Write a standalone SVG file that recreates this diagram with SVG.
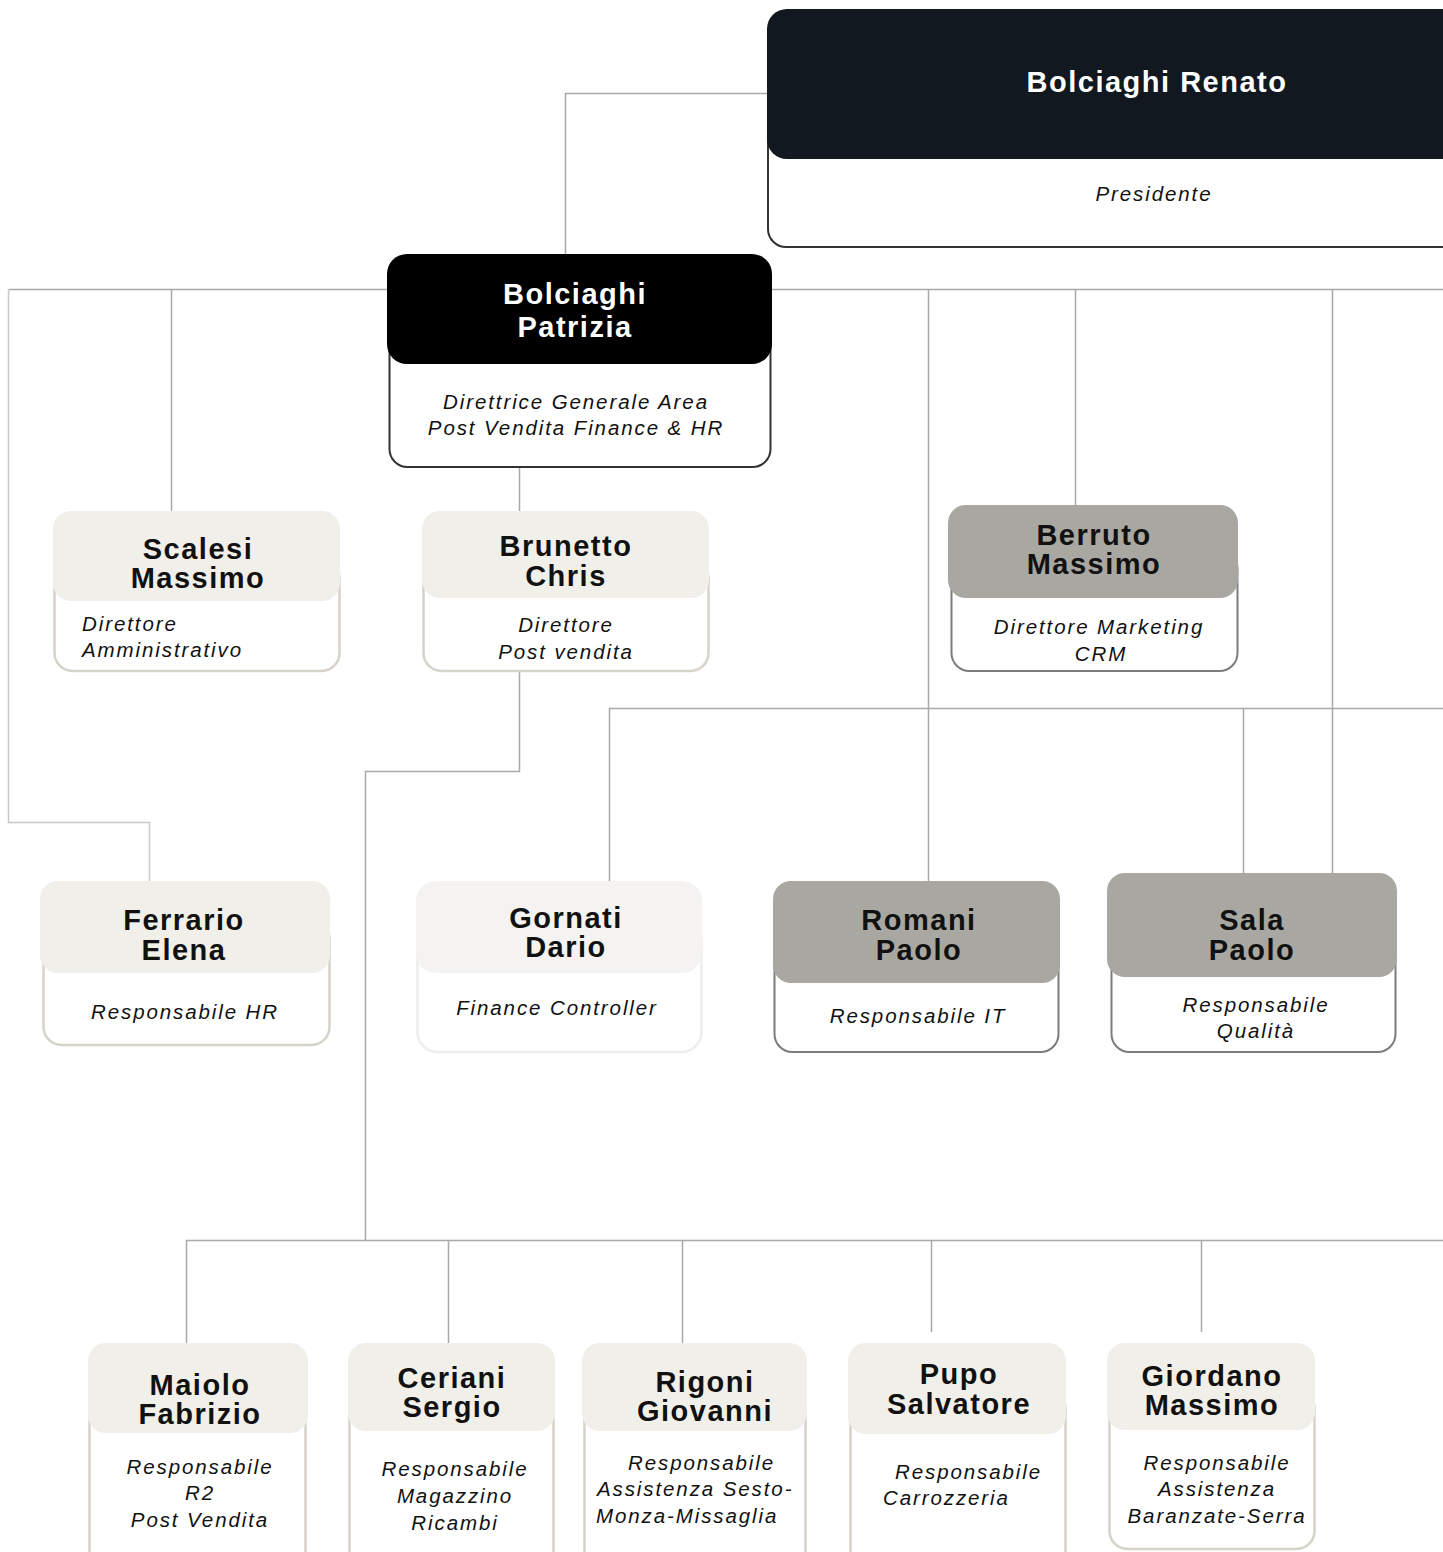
<svg xmlns="http://www.w3.org/2000/svg" width="1443" height="1552" viewBox="0 0 1443 1552">
<style>
.bg{fill:#ffffff}
.conn{fill:none;stroke:#a9a9a9;stroke-width:1.5}
.name{font-family:"Liberation Sans",Arial,sans-serif;font-weight:bold;font-size:29px;letter-spacing:1.5px;text-anchor:middle;fill:#111}
.nameW{font-family:"Liberation Sans",Arial,sans-serif;font-weight:bold;font-size:29px;letter-spacing:1.5px;text-anchor:middle;fill:#fff}
.title{font-family:"Liberation Sans",Arial,sans-serif;font-style:italic;font-size:20.5px;letter-spacing:1.9px;fill:#111}
.c{text-anchor:middle}
.bodyDark{fill:#fff;stroke:#333;stroke-width:2}
.bodyBeige{fill:#fff;stroke:#d6d3c9;stroke-width:2.5}
.bodyGray{fill:#fff;stroke:#7c7c7c;stroke-width:2}
.bodyLight{fill:#fff;stroke:#ededeb;stroke-width:2.5}
.hdBlack{fill:#000}
.hdNavy{fill:#111820}
.hdBeige{fill:#f1efe9}
.hdGray{fill:#a8a7a2}
.hdLight{fill:#f4f3f1}
</style>
<rect class="bg" x="0" y="0" width="1443" height="1552"/>
<g id="connectors">
<path class="conn" d="M767,93.5 H565.5 V254"/>
<path class="conn" d="M8.5,289.5 H1443"/>
<path class="conn" d="M8.5,289.5 V822.5 H149.5 V881" style="stroke:#c8c8c8"/>
<path class="conn" d="M171.5,289.5 V511"/>
<path class="conn" d="M928.5,289.5 V708.5"/>
<path class="conn" d="M1075.5,289.5 V505"/>
<path class="conn" d="M1332.5,289.5 V873"/>
<path class="conn" d="M519.5,467 V511"/>
<path class="conn" d="M519.5,671 V771.5 H365.5 V1240.5"/>
<path class="conn" d="M609.5,881 V708.5 H1443"/>
<path class="conn" d="M928.5,708.5 V881"/>
<path class="conn" d="M1243.5,708.5 V873"/>
<path class="conn" d="M186.5,1343 V1240.5 H1443"/>
<path class="conn" d="M448.5,1240.5 V1343"/>
<path class="conn" d="M682.5,1240.5 V1343"/>
<path class="conn" d="M931.5,1240.5 V1332"/>
<path class="conn" d="M1201.5,1240.5 V1332"/>
</g>
<g id="renato">
<rect class="bodyDark" x="768" y="60" width="720" height="187" rx="18"/>
<rect class="hdNavy" x="767" y="9" width="720" height="150" rx="20"/>
<text class="nameW" x="1157" y="92">Bolciaghi Renato</text>
<text class="title c" x="1154" y="201">Presidente</text>
</g>
<g id="patrizia">
<rect class="bodyDark" x="389.5" y="310" width="381" height="157" rx="18"/>
<rect class="hdBlack" x="387" y="254" width="385" height="110" rx="20"/>
<text class="nameW" x="575" y="304">Bolciaghi</text>
<text class="nameW" x="575" y="337">Patrizia</text>
<text class="title c" x="576" y="409">Direttrice Generale Area</text>
<text class="title c" x="576" y="435">Post Vendita Finance &amp; HR</text>
</g>
<g id="scalesi">
<rect class="bodyBeige" x="54.5" y="560" width="285" height="111" rx="18"/>
<rect class="hdBeige" x="53" y="511" width="287" height="90" rx="18"/>
<text class="name" x="198" y="559">Scalesi</text>
<text class="name" x="198" y="588">Massimo</text>
<text class="title" x="82" y="631">Direttore</text>
<text class="title" x="82" y="657">Amministrativo</text>
</g>
<g id="brunetto">
<rect class="bodyBeige" x="423.5" y="560" width="285" height="111" rx="18"/>
<rect class="hdBeige" x="422" y="511" width="287" height="87" rx="18"/>
<text class="name" x="566" y="556">Brunetto</text>
<text class="name" x="566" y="586">Chris</text>
<text class="title c" x="566" y="632">Direttore</text>
<text class="title c" x="566" y="659">Post vendita</text>
</g>
<g id="berruto">
<rect class="bodyGray" x="951.5" y="550" width="286" height="121" rx="18"/>
<rect class="hdGray" x="948" y="505" width="290" height="93" rx="18"/>
<text class="name" x="1094" y="545">Berruto</text>
<text class="name" x="1094" y="574">Massimo</text>
<text class="title c" x="1099" y="634">Direttore Marketing</text>
<text class="title c" x="1101" y="661">CRM</text>
</g>
<g id="ferrario">
<rect class="bodyBeige" x="43.5" y="920" width="286" height="125" rx="18"/>
<rect class="hdBeige" x="40" y="881" width="290" height="92" rx="18"/>
<text class="name" x="184" y="930">Ferrario</text>
<text class="name" x="184" y="960">Elena</text>
<text class="title c" x="185" y="1019">Responsabile HR</text>
</g>
<g id="gornati">
<rect class="bodyLight" x="417.5" y="920" width="284" height="132" rx="20"/>
<rect class="hdLight" x="416" y="881" width="286" height="92" rx="20"/>
<text class="name" x="566" y="928">Gornati</text>
<text class="name" x="566" y="957">Dario</text>
<text class="title c" x="557" y="1015">Finance Controller</text>
</g>
<g id="romani">
<rect class="bodyGray" x="774.5" y="930" width="284" height="122" rx="18"/>
<rect class="hdGray" x="773" y="881" width="287" height="102" rx="18"/>
<text class="name" x="919" y="930">Romani</text>
<text class="name" x="919" y="960">Paolo</text>
<text class="title c" x="918" y="1023">Responsabile IT</text>
</g>
<g id="sala">
<rect class="bodyGray" x="1111.5" y="920" width="284" height="132" rx="18"/>
<rect class="hdGray" x="1107" y="873" width="290" height="104" rx="18"/>
<text class="name" x="1252" y="930">Sala</text>
<text class="name" x="1252" y="960">Paolo</text>
<text class="title c" x="1256" y="1012">Responsabile</text>
<text class="title c" x="1256" y="1038">Qualità</text>
</g>
<g id="maiolo">
<rect class="bodyBeige" x="89.5" y="1390" width="216" height="180" rx="18"/>
<rect class="hdBeige" x="88" y="1343" width="220" height="90" rx="18"/>
<text class="name" x="200" y="1395">Maiolo</text>
<text class="name" x="200" y="1424">Fabrizio</text>
<text class="title c" x="200" y="1474">Responsabile</text>
<text class="title c" x="200" y="1500">R2</text>
<text class="title c" x="200" y="1527">Post Vendita</text>
</g>
<g id="ceriani">
<rect class="bodyBeige" x="349.5" y="1390" width="204" height="180" rx="18"/>
<rect class="hdBeige" x="348" y="1343" width="207" height="88" rx="18"/>
<text class="name" x="452" y="1388">Ceriani</text>
<text class="name" x="452" y="1417">Sergio</text>
<text class="title c" x="455" y="1476">Responsabile</text>
<text class="title c" x="455" y="1503">Magazzino</text>
<text class="title c" x="455" y="1530">Ricambi</text>
</g>
<g id="rigoni">
<rect class="bodyBeige" x="584.5" y="1390" width="221" height="180" rx="18"/>
<rect class="hdBeige" x="582" y="1343" width="225" height="88" rx="18"/>
<text class="name" x="705" y="1392">Rigoni</text>
<text class="name" x="705" y="1421">Giovanni</text>
<text class="title" x="628" y="1470">Responsabile</text>
<text class="title" x="597" y="1496">Assistenza Sesto-</text>
<text class="title" x="596" y="1523">Monza-Missaglia</text>
</g>
<g id="pupo">
<rect class="bodyBeige" x="850.5" y="1390" width="215" height="180" rx="18"/>
<rect class="hdBeige" x="848" y="1343" width="218" height="91" rx="18"/>
<text class="name" x="959" y="1384">Pupo</text>
<text class="name" x="959" y="1414">Salvatore</text>
<text class="title" x="895" y="1479">Responsabile</text>
<text class="title" x="883" y="1505">Carrozzeria</text>
</g>
<g id="giordano">
<rect class="bodyBeige" x="1109.5" y="1390" width="205" height="159" rx="18"/>
<rect class="hdBeige" x="1107" y="1343" width="208" height="87" rx="18"/>
<text class="name" x="1212" y="1386">Giordano</text>
<text class="name" x="1212" y="1415">Massimo</text>
<text class="title c" x="1217" y="1470">Responsabile</text>
<text class="title c" x="1217" y="1496">Assistenza</text>
<text class="title c" x="1217" y="1523">Baranzate-Serra</text>
</g>
</svg>
